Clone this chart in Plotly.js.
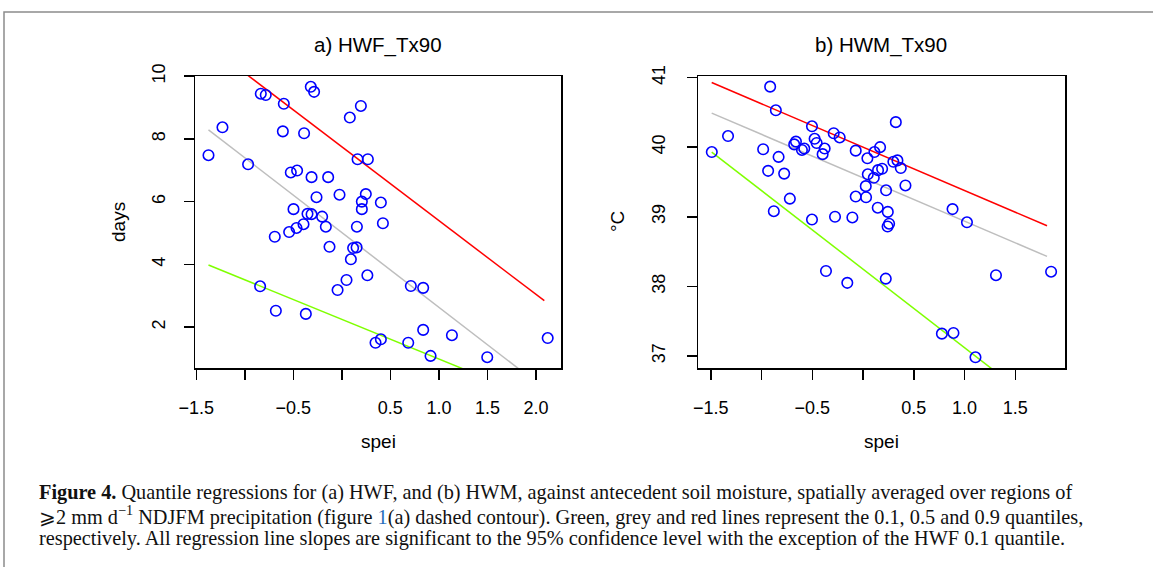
<!DOCTYPE html>
<html>
<head>
<meta charset="utf-8">
<script src="https://cdn.plot.ly/plotly-3.0.1.min.js"></script>
<style>
  html, body { margin: 0; padding: 0; background: #ffffff; }
  #chart { width: 1153px; height: 567px; }
</style>
</head>
<body>
<div id="chart"></div>
<script>
// ---------- data ----------
// Panel a) HWF_Tx90 : spei vs heatwave frequency (days)
const speiA = [-0.320, -0.286, -0.835, -0.784, -0.598, 0.196, 0.082, -1.230, -0.608, -0.389,
               -1.374, -0.966, 0.162, 0.268, -0.526, -0.461, -0.312, -0.141, -0.261, -0.024,
               0.247, 0.206, 0.206, -0.498, -0.354, -0.312, -0.203, 0.155, -0.395, -0.467,
               -0.543, -0.691, -0.165, -0.127, 0.116, 0.152, 0.093, 0.263, 0.048, -0.044,
               -0.842, -0.680, -0.371, 0.402, 0.423, 0.711, 0.838, 0.838, 1.134, 2.121,
               0.347, 0.402, 0.684, 0.914, 1.498];
const hwf   = [9.66, 9.50, 9.44, 9.40, 9.12, 9.05, 8.68, 8.37, 8.24, 8.18,
               7.48, 7.19, 7.35, 7.35, 6.93, 6.99, 6.78, 6.78, 6.14, 6.22,
               6.24, 6.00, 5.76, 5.76, 5.61, 5.60, 5.52, 5.20, 5.28, 5.16,
               5.03, 4.88, 5.20, 4.56, 4.52, 4.54, 4.16, 3.65, 3.50, 3.18,
               3.30, 2.52, 2.42, 5.97, 5.31, 3.31, 3.25, 1.91, 1.74, 1.65,
               1.50, 1.61, 1.50, 1.08, 1.04];

// Panel b) HWM_Tx90 : spei vs heatwave magnitude (°C)
const speiB = [-0.915, -0.859, -1.330, -1.490, -0.984, -0.832, -0.935, -0.777, -0.721, -0.879,
               -0.503, -0.477, -0.457, -0.661, -0.678, -0.602, -0.579, -0.378, -0.398, -0.289,
               -0.230, -0.072, 0.043, 0.112, 0.168, 0.047, 0.106, 0.148, 0.188, 0.027,
               -0.072, 0.030, 0.145, 0.244, 0.227, -0.503, -0.276, -0.105, 0.242, 0.257,
               -0.365, -0.155, 0.224, 0.323, 0.299, 0.339, 0.372, 0.418, 0.882, 1.024,
               1.310, 1.853, 0.777, 0.891, 1.108];
const hwm   = [40.87, 40.53, 40.16, 39.93, 39.97, 39.86, 39.66, 39.62, 39.26, 39.08,
               40.30, 40.12, 40.06, 40.08, 40.04, 39.96, 39.98, 39.98, 39.90, 40.20,
               40.14, 39.95, 39.84, 39.93, 40.00, 39.61, 39.56, 39.67, 39.69, 39.44,
               39.29, 39.28, 39.13, 39.07, 39.38, 38.96, 39.00, 38.99, 38.86, 38.90,
               38.22, 38.05, 38.11, 40.36, 39.79, 39.81, 39.70, 39.45, 39.11, 38.92,
               38.16, 38.21, 37.32, 37.33, 36.98];

// Quantile regression lines (end points)
const lineXA = [-1.374, 2.086];
const q10A   = [3.98, -0.39];
const q50A   = [8.29, 0.04];
const q90A   = [10.98, 2.84];

const lineXB = [-1.491, 1.813];
const q10B   = [39.93, 36.20];
const q50B   = [40.49, 38.43];
const q90B   = [40.93, 38.87];

// Tick values / labels (R drops the labels at -1.0 and 0.0, ticks remain)
const xTickValsA = [-1.5, -0.5, 0.5, 1.0, 1.5, 2.0];
const xTickTextA = ['\u22121.5', '\u22120.5', '0.5', '1.0', '1.5', '2.0'];
const xTickValsB = [-1.5, -0.5, 0.5, 1.0, 1.5];
const xTickTextB = ['\u22121.5', '\u22120.5', '0.5', '1.0', '1.5'];
const xUnlabelled = [-1.0, 0.0];
const yTickValsA = [2, 4, 6, 8, 10];
const yTickValsB = [37, 38, 39, 40, 41];

const panelTitles = ['a) HWF_Tx90', 'b) HWM_Tx90'];
const xTitle = 'spei';
const yTitles = ['days', '\u00B0C'];

const captionLines = [
  '<b>Figure 4.</b> Quantile regressions for (a) HWF, and (b) HWM, against antecedent soil moisture, spatially averaged over regions of',
  '\u2A7E2 mm d<sup>\u22121</sup> NDJFM precipitation (figure <span style="color:#2a6ebb">1</span>(a) dashed contour). Green, grey and red lines represent the 0.1, 0.5 and 0.9 quantiles,',
  'respectively. All regression line slopes are significant to the 95% confidence level with the exception of the HWF 0.1 quantile.'
];

// ---------- styling ----------
const W = 1153, H = 567;
const px = v => v / W;
const py = v => 1 - v / H;
const COL_PT = '#0000FF', COL_RED = '#FF0000', COL_GREY = '#BEBEBE', COL_GREEN = '#7FFF00';
const sansFont = 'Liberation Sans, Arial, Helvetica, sans-serif';
const serifFont = 'Liberation Serif, Times New Roman, serif';

function pts(x, y, xa, ya) {
  return { x: x, y: y, xaxis: xa, yaxis: ya, type: 'scatter', mode: 'markers',
           marker: { symbol: 'circle-open', size: 10.5, color: COL_PT, line: { width: 1.6, color: COL_PT } },
           hoverinfo: 'skip', showlegend: false, cliponaxis: false };
}
function qline(x, y, c, xa, ya) {
  return { x: x, y: y, xaxis: xa, yaxis: ya, type: 'scatter', mode: 'lines',
           line: { color: c, width: 1.5 }, hoverinfo: 'skip', showlegend: false };
}

const traces = [
  qline(lineXA, q50A, COL_GREY, 'x', 'y'),
  qline(lineXA, q10A, COL_GREEN, 'x', 'y'),
  qline(lineXA, q90A, COL_RED, 'x', 'y'),
  pts(speiA, hwf, 'x', 'y'),
  qline(lineXB, q50B, COL_GREY, 'x2', 'y2'),
  qline(lineXB, q10B, COL_GREEN, 'x2', 'y2'),
  qline(lineXB, q90B, COL_RED, 'x2', 'y2'),
  pts(speiB, hwm, 'x2', 'y2')
];

const axBase = {
  showgrid: false, zeroline: false, showline: true, mirror: true,
  linecolor: '#000000', linewidth: 1.5, ticks: 'outside', ticklen: 10, tickwidth: 1.5,
  tickcolor: '#000000', tickmode: 'array', fixedrange: true,
  tickfont: { family: sansFont, size: 18, color: '#000000' }
};
const minorX = { tickmode: 'array', tickvals: xUnlabelled, ticks: 'outside', ticklen: 10,
                 tickwidth: 1.5, tickcolor: '#000000', showgrid: false };

const layout = {
  width: W, height: H,
  margin: { l: 0, r: 0, t: 0, b: 0 },
  paper_bgcolor: '#ffffff', plot_bgcolor: '#ffffff',
  showlegend: false,
  xaxis: Object.assign({}, axBase, { domain: [px(195), px(561)], range: [-1.513, 2.258],
          tickvals: xTickValsA, ticktext: xTickTextA, anchor: 'y', ticklabelstandoff: 13,
          minor: minorX }),
  yaxis: Object.assign({}, axBase, { domain: [py(368), py(76)], range: [0.695, 10.005],
          tickvals: yTickValsA, ticktext: yTickValsA.map(String), tickangle: -90, anchor: 'x',
          ticklabelstandoff: 11 }),
  xaxis2: Object.assign({}, axBase, { domain: [px(698), px(1065)], range: [-1.626, 1.990],
          tickvals: xTickValsB, ticktext: xTickTextB, anchor: 'y2', ticklabelstandoff: 13,
          minor: minorX }),
  yaxis2: Object.assign({}, axBase, { domain: [py(368), py(76)], range: [36.826, 41.023],
          tickvals: yTickValsB, ticktext: yTickValsB.map(String), tickangle: -90, anchor: 'x2',
          ticklabelstandoff: 14 }),
  shapes: [
    { type: 'rect', xref: 'paper', yref: 'paper', x0: px(4), x1: 1.02, y0: -0.05, y1: py(12),
      line: { color: '#8c8c8c', width: 1.5 }, fillcolor: 'rgba(0,0,0,0)', layer: 'below' }
  ],
  annotations: []
};

const ann = layout.annotations;
const titleFont = { family: sansFont, size: 20.5, color: '#000000' };
const labFont = { family: sansFont, size: 19, color: '#000000' };
ann.push({ text: panelTitles[0], xref: 'paper', yref: 'paper', x: px(378), y: py(45), showarrow: false,
           xanchor: 'center', yanchor: 'middle', font: titleFont });
ann.push({ text: panelTitles[1], xref: 'paper', yref: 'paper', x: px(881), y: py(45), showarrow: false,
           xanchor: 'center', yanchor: 'middle', font: titleFont });
ann.push({ text: xTitle, xref: 'paper', yref: 'paper', x: px(378), y: py(441), showarrow: false,
           xanchor: 'center', yanchor: 'middle', font: labFont });
ann.push({ text: xTitle, xref: 'paper', yref: 'paper', x: px(881), y: py(441), showarrow: false,
           xanchor: 'center', yanchor: 'middle', font: labFont });
ann.push({ text: yTitles[0], xref: 'paper', yref: 'paper', x: px(118), y: py(222), showarrow: false,
           xanchor: 'center', yanchor: 'middle', textangle: -90, font: labFont });
ann.push({ text: yTitles[1], xref: 'paper', yref: 'paper', x: px(617), y: py(222), showarrow: false,
           xanchor: 'center', yanchor: 'middle', textangle: -90, font: labFont });

const capY = [492, 515, 538];
captionLines.forEach((t, i) => {
  ann.push({ text: t, xref: 'paper', yref: 'paper', x: px(37), y: py(capY[i]), showarrow: false,
             xanchor: 'left', yanchor: 'middle', align: 'left',
             font: { family: serifFont, size: 20.3, color: '#111111' } });
});

Plotly.newPlot('chart', traces, layout, { displayModeBar: false, staticPlot: true });
</script>
</body>
</html>
